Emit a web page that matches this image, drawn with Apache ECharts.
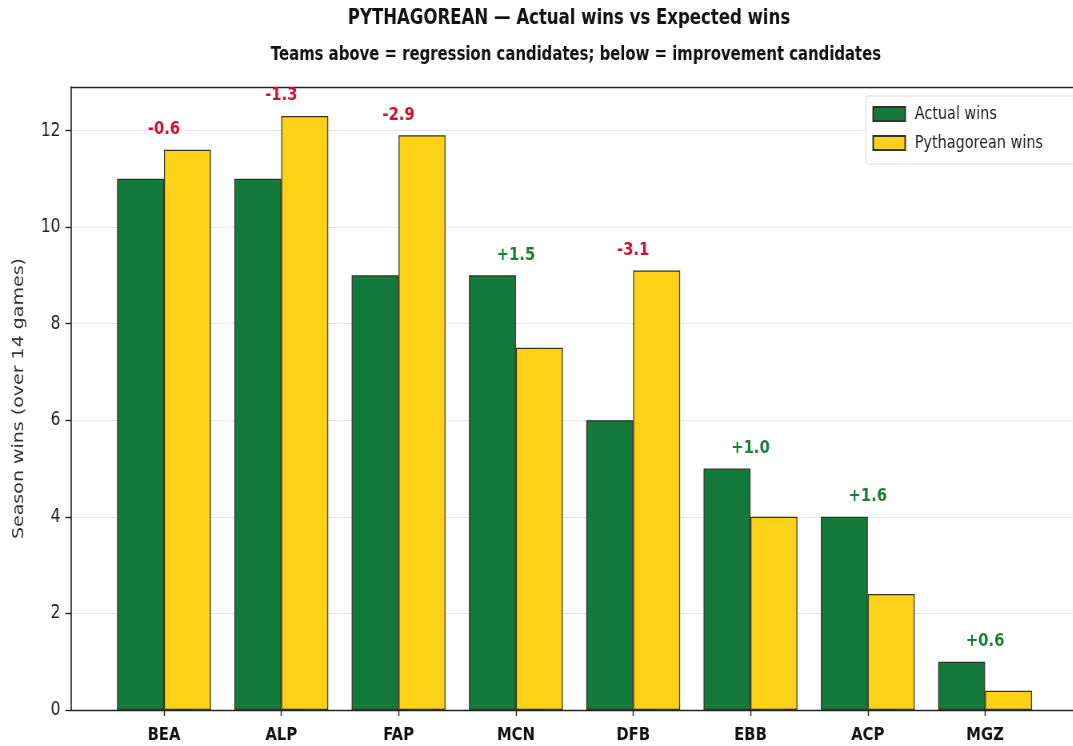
<!DOCTYPE html>
<html>
<head>
<meta charset="utf-8">
<script src="https://cdn.jsdelivr.net/npm/echarts@6/dist/echarts.min.js"></script>
<style>
  html, body { margin: 0; padding: 0; background: #fff; overflow: hidden; }
  #wrap { width: 1073px; height: 746px; overflow: hidden; }
  /* the chart is laid out wide and compressed horizontally into the page */
  #chart { width: 1341px; height: 746px; transform: scaleX(0.8); transform-origin: 0 0; }
</style>
</head>
<body>
<div id="wrap"><div id="chart"></div></div>
<script>
// Season data: actual vs Pythagorean expected wins per team
const teams = ['BEA', 'ALP', 'FAP', 'MCN', 'DFB', 'EBB', 'ACP', 'MGZ'];
const actualWins = [11, 11, 9, 9, 6, 5, 4, 1];
const pythagoreanWins = [11.6, 12.3, 11.9, 7.5, 9.1, 4.0, 2.4, 0.4];
const yTicks = [0, 2, 4, 6, 8, 10, 12];

const GREEN = '#137a3b';
const YELLOW = '#fcd116';
const EDGE = '#333326';
const POS = '#1c7d36';
const NEG = '#d0102c';
const FONT = 'DejaVu Sans';

// Difference labels sit on top of the taller bar in each pair
const diffPoints = teams.map((t, i) => {
  const d = actualWins[i] - pythagoreanWins[i];
  return {
    value: Math.max(actualWins[i], pythagoreanWins[i]),
    diff: d,
    label: { color: d >= 0 ? POS : NEG }
  };
});

const yMax = 12.9;
const SX = 0.8; // horizontal compression applied by CSS

// Frame grid (spines + y axis) and bar grid (category bands inset by the plot margins)
const frame = { left: 71 / SX, top: 87, width: 1010 / SX, height: 623 };
const unit = 117.3 / SX;                 // one category step
const barLeft = 164 / SX - unit / 2;     // left edge of the first band

const chart = echarts.init(document.getElementById('chart'));
chart.setOption({
  animation: false,
  backgroundColor: '#fff',
  title: [
    {
      text: 'PYTHAGOREAN — Actual wins vs Expected wins',
      left: 565 / SX, top: 3, textAlign: 'center',
      textStyle: { fontFamily: FONT, fontWeight: 'bold', fontSize: 20.7, color: '#111' }
    },
    {
      text: 'Teams above = regression candidates; below = improvement candidates',
      left: 572 / SX, top: 41, textAlign: 'center',
      textStyle: { fontFamily: FONT, fontWeight: 'bold', fontSize: 18.6, color: '#111' }
    }
  ],
  legend: {
    data: ['Actual wins', 'Pythagorean wins'],
    orient: 'vertical',
    left: 866 / SX, top: 96,
    icon: 'rect',
    itemWidth: 40, itemHeight: 14, itemGap: 11,
    padding: [9, 40, 12, 8],
    backgroundColor: '#fff',
    borderColor: '#dcdcdc', borderWidth: 1, borderRadius: 3,
    textStyle: { fontFamily: FONT, fontSize: 18, color: '#222', padding: [0, 0, 0, 7] }
  },
  grid: [
    { left: frame.left, top: frame.top, width: frame.width, height: frame.height },
    { left: barLeft, top: frame.top, width: unit * 8, height: frame.height }
  ],
  xAxis: [
    { gridIndex: 0, type: 'value', min: 0, max: 1, position: 'bottom',
      axisLine: { show: true, onZero: false, lineStyle: { color: '#222', width: 1.3 } },
      axisTick: { show: false }, axisLabel: { show: false }, splitLine: { show: false } },
    {
      gridIndex: 1, type: 'category', data: teams,
      axisLine: { show: false },
      axisTick: { show: true, alignWithLabel: true, length: 6, lineStyle: { color: '#222', width: 1.4 } },
      axisLabel: { fontFamily: FONT, fontWeight: 'bold', fontSize: 18.5, color: '#111', margin: 16 }
    },
    { gridIndex: 0, type: 'value', min: 0, max: 1, position: 'top',
      axisLine: { show: true, onZero: false, lineStyle: { color: '#222', width: 1.3 } },
      axisTick: { show: false }, axisLabel: { show: false }, splitLine: { show: false } }
  ],
  yAxis: [
    {
      gridIndex: 0, type: 'value', min: 0, max: yMax, interval: 2,
      name: 'Season wins (over 14 games)', nameLocation: 'middle', nameGap: 55,
      nameTextStyle: { fontFamily: FONT, fontSize: 19, color: '#333' },
      axisLine: { show: true, lineStyle: { color: '#222', width: 1.6 } },
      axisTick: { show: true, length: 7, lineStyle: { color: '#222', width: 1.4 },
        customValues: yTicks },
      axisLabel: { fontFamily: FONT, fontSize: 19.5, color: '#222', margin: 13,
        customValues: yTicks },
      splitLine: { show: true, lineStyle: { color: '#e6e6e6', width: 1 } }
    },
    { gridIndex: 1, type: 'value', min: 0, max: yMax, show: false }
  ],
  series: [
    {
      name: 'Actual wins', type: 'bar', xAxisIndex: 1, yAxisIndex: 1,
      data: actualWins, barWidth: unit * 0.4, barGap: '0%',
      itemStyle: { color: GREEN, borderColor: EDGE, borderWidth: 1.2 }
    },
    {
      name: 'Pythagorean wins', type: 'bar', xAxisIndex: 1, yAxisIndex: 1,
      data: pythagoreanWins, barWidth: unit * 0.4, barGap: '0%',
      itemStyle: { color: YELLOW, borderColor: EDGE, borderWidth: 1.2 }
    },
    {
      name: 'diff', type: 'scatter', xAxisIndex: 1, yAxisIndex: 1,
      symbolSize: 0, data: diffPoints, silent: true,
      itemStyle: { opacity: 1 },
      label: {
        show: true, position: 'top', distance: 11,
        fontFamily: FONT, fontWeight: 'bold', fontSize: 18.5,
        formatter: p => (p.data.diff >= 0 ? '+' : '') + p.data.diff.toFixed(1)
      }
    }
  ]
});
</script>
</body>
</html>
